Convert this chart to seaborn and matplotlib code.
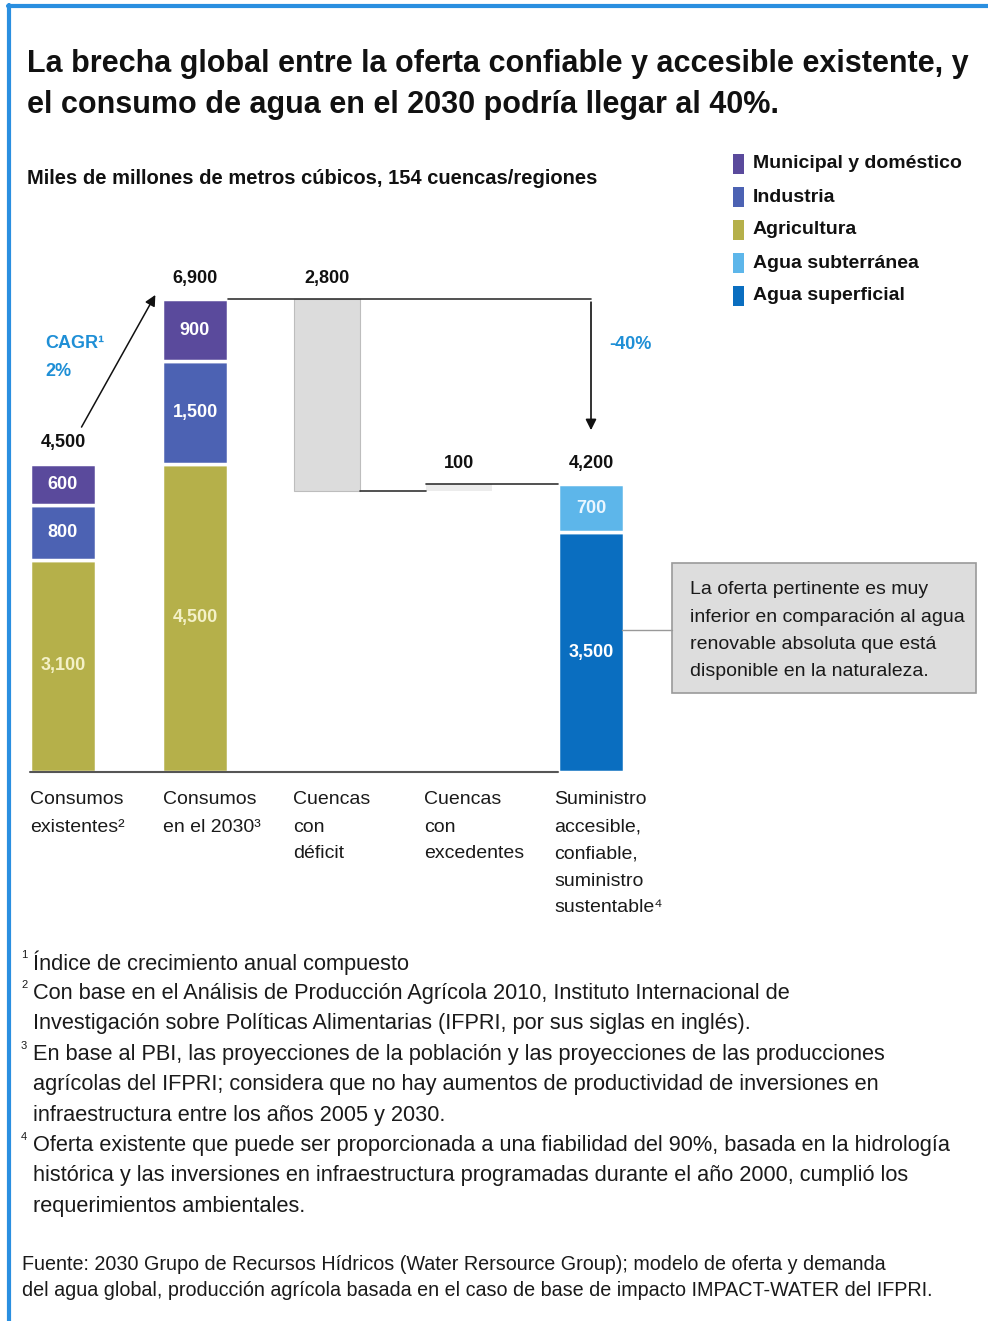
import matplotlib
matplotlib.use('Agg')
import matplotlib.pyplot as plt
import matplotlib.font_manager as fm
import seaborn as sns
from matplotlib.lines import Line2D
from matplotlib.patches import Rectangle

sns.set_theme(style='white')
names = sorted({f.name for f in fm.fontManager.ttflist})
narrow = 'Liberation Sans Narrow' if 'Liberation Sans Narrow' in names else 'Liberation Sans'
plt.rcParams['font.family'] = [narrow, 'DejaVu Sans']

# data
categories = ['Consumos\nexistentes²', 'Consumos\nen el 2030³', 'Cuencas\ncon\ndéficit',
              'Cuencas\ncon\nexcedentes', 'Suministro\naccesible,\nconfiable,\nsuministro\nsustentable⁴']
agricultura = [3100, 4500]
industria = [800, 1500]
municipal = [600, 900]
totales_demanda = [4500, 6900]
deficit = 2800
excedentes = 100
subterranea = 700
superficial = 3500
total_oferta = 4200

col_mun = '#5a4a9c'
col_ind = '#4c62b3'
col_agr = '#b5b04a'
col_sub = '#5db6ea'
col_sup = '#0a6ec0'
col_gris = '#dcdcdc'
blue_txt = '#1f8fd6'

W, H = 988, 1321
fig = plt.figure(figsize=(W / 100, H / 100), dpi=100)

def fx(px):
    return px / W

def fy(py):
    return 1 - py / H

# axes in pixel layout: bar slot spacing 132 px, first centre at 63 px
scale = 0.0685
ax_l, ax_r, ax_t, ax_b = 20, 660, 240, 772
ax = fig.add_axes([fx(ax_l), fy(ax_b), fx(ax_r - ax_l), (ax_b - ax_t) / H])
ax.set_xlim((ax_l - 63) / 132, (ax_r - 63) / 132)
ax.set_ylim(0, (ax_b - ax_t) / scale)
ax.axis('off')

bw = 0.5
kw = dict(width=bw, edgecolor='white', linewidth=2.5)
for i in range(2):
    ax.bar(i, agricultura[i], color=col_agr, **kw)
    ax.bar(i, industria[i], bottom=agricultura[i], color=col_ind, **kw)
    ax.bar(i, municipal[i], bottom=agricultura[i] + industria[i], color=col_mun, **kw)
    ax.text(i, agricultura[i] / 2, f'{agricultura[i]:,}',
            color='#f4f1c8', ha='center', va='center', fontsize=13, fontweight='bold')
    ax.text(i, agricultura[i] + industria[i] / 2, f'{industria[i]:,}', color='white',
            ha='center', va='center', fontsize=13, fontweight='bold')
    ax.text(i, agricultura[i] + industria[i] + municipal[i] / 2, f'{municipal[i]:,}', color='white',
            ha='center', va='center', fontsize=13, fontweight='bold')
    ax.text(i, totales_demanda[i] + 180, f'{totales_demanda[i]:,}', ha='center', va='bottom',
            fontsize=13, fontweight='bold', color='#111111')

# deficit and surplus (floating)
base_def = totales_demanda[1] - deficit
ax.bar(2, deficit, bottom=base_def, width=bw, color=col_gris, edgecolor='#bdbdbd', linewidth=0.8)
ax.text(2, totales_demanda[1] + 180, f'{deficit:,}', ha='center', va='bottom',
        fontsize=13, fontweight='bold', color='#111111')
ax.bar(3, excedentes, bottom=base_def, width=bw, color='#ececec', edgecolor='none')
ax.text(3, total_oferta + 180, f'{excedentes:,}', ha='center', va='bottom',
        fontsize=13, fontweight='bold', color='#111111')

# supply
ax.bar(4, superficial, color=col_sup, **kw)
ax.bar(4, subterranea, bottom=superficial, color=col_sub, **kw)
ax.text(4, superficial / 2, f'{superficial:,}', color='white', ha='center', va='center',
        fontsize=13, fontweight='bold')
ax.text(4, superficial + subterranea / 2, f'{subterranea:,}', color='#eaf6ff', ha='center',
        va='center', fontsize=13, fontweight='bold')
ax.text(4, total_oferta + 180, f'{total_oferta:,}', ha='center', va='bottom',
        fontsize=13, fontweight='bold', color='#111111')

# connectors
lc = '#333333'
ax.plot([1.25, 4], [totales_demanda[1]] * 2, color=lc, lw=1.2)
ax.annotate('', xy=(4, total_oferta + 750), xytext=(4, totales_demanda[1]),
            arrowprops=dict(arrowstyle='-|>', color='#111111', lw=1.2, mutation_scale=16))
ax.plot([2.25, 2.75], [base_def] * 2, color=lc, lw=1.2)
ax.plot([2.75, 3.75], [total_oferta] * 2, color=lc, lw=1.2)
ax.plot([-0.25, 3.75], [0, 0], color='#555555', lw=1.5, clip_on=False)

# CAGR arrow
ax.annotate('', xy=(0.71, 7000), xytext=(0.13, 5000),
            arrowprops=dict(arrowstyle='-|>', color='#111111', lw=1.1, mutation_scale=16),
            annotation_clip=False)
fig.text(fx(45), fy(343), 'CAGR¹', color=blue_txt, fontsize=13, fontweight='bold', va='center')
fig.text(fx(45), fy(371), '2%', color=blue_txt, fontsize=13, fontweight='bold', va='center')
fig.text(fx(609), fy(345), '-40%', color=blue_txt, fontsize=13, fontweight='bold', va='center')

# callout box
fig.add_artist(Line2D([fx(622), fx(672)], [fy(630), fy(630)], color='#999999', lw=1))
fig.add_artist(Rectangle((fx(672), fy(693)), fx(976 - 672), (693 - 563) / H,
                         facecolor='#dddddd', edgecolor='#9a9a9a', lw=1.2))
box_lines = ['La oferta pertinente es muy', 'inferior en comparación al agua',
             'renovable absoluta que está', 'disponible en la naturaleza.']
for k, t in enumerate(box_lines):
    fig.text(fx(690), fy(590 + k * 27.3), t, fontsize=14, va='center', color='#1a1a1a')

# titles
fig.text(fx(27), fy(64), 'La brecha global entre la oferta confiable y accesible existente, y',
         fontsize=22, fontweight='bold', va='center', color='#111111')
fig.text(fx(27), fy(105), 'el consumo de agua en el 2030 podría llegar al 40%.',
         fontsize=22, fontweight='bold', va='center', color='#111111')
fig.text(fx(27), fy(179), 'Miles de millones de metros cúbicos, 154 cuencas/regiones',
         fontsize=14.5, fontweight='bold', va='center', color='#111111')

# legend
leg_items = [('Municipal y doméstico', col_mun), ('Industria', col_ind), ('Agricultura', col_agr),
             ('Agua subterránea', col_sub), ('Agua superficial', col_sup)]
for k, (lab, c) in enumerate(leg_items):
    y = 164 + k * 33
    fig.add_artist(Rectangle((fx(733), fy(y + 10)), fx(11), 20 / H, facecolor=c, edgecolor='none'))
    fig.text(fx(753), fy(y), lab, fontsize=14, fontweight='bold', va='center', color='#111111')

# category labels
cat_x = [30, 163, 293, 424, 554]
for x, lab in zip(cat_x, categories):
    for k, line in enumerate(lab.split('\n')):
        fig.text(fx(x), fy(800 + k * 27), line, fontsize=14, va='center', color='#1a1a1a')

# footnotes
notes = [('1', ['Índice de crecimiento anual compuesto']),
         ('2', ['Con base en el Análisis de Producción Agrícola 2010, Instituto Internacional de',
                'Investigación sobre Políticas Alimentarias (IFPRI, por sus siglas en inglés).']),
         ('3', ['En base al PBI, las proyecciones de la población y las proyecciones de las producciones',
                'agrícolas del IFPRI; considera que no hay aumentos de productividad de inversiones en',
                'infraestructura entre los años 2005 y 2030.']),
         ('4', ['Oferta existente que puede ser proporcionada a una fiabilidad del 90%, basada en la hidrología',
                'histórica y las inversiones en infraestructura programadas durante el año 2000, cumplió los',
                'requerimientos ambientales.'])]
row = 0
for num, lines in notes:
    fig.text(fx(21), fy(955 + row * 30.4), num, fontsize=8, va='center', color='#1a1a1a')
    for line in lines:
        fig.text(fx(33), fy(963 + row * 30.4), line, fontsize=15.7, va='center', color='#1a1a1a')
        row += 1

fig.text(fx(22), fy(1264), 'Fuente: 2030 Grupo de Recursos Hídricos (Water Rersource Group); modelo de oferta y demanda',
         fontsize=14.2, va='center', color='#1a1a1a')
fig.text(fx(22), fy(1291), 'del agua global, producción agrícola basada en el caso de base de impacto IMPACT-WATER del IFPRI.',
         fontsize=14.2, va='center', color='#1a1a1a')

# blue frame
fig.add_artist(Line2D([fx(9), fx(9)], [0, fy(5)], color='#2a8fe0', lw=3))
fig.add_artist(Line2D([fx(8), 1], [fy(6), fy(6)], color='#2a8fe0', lw=3))

fig.savefig('out.png', dpi=100)
